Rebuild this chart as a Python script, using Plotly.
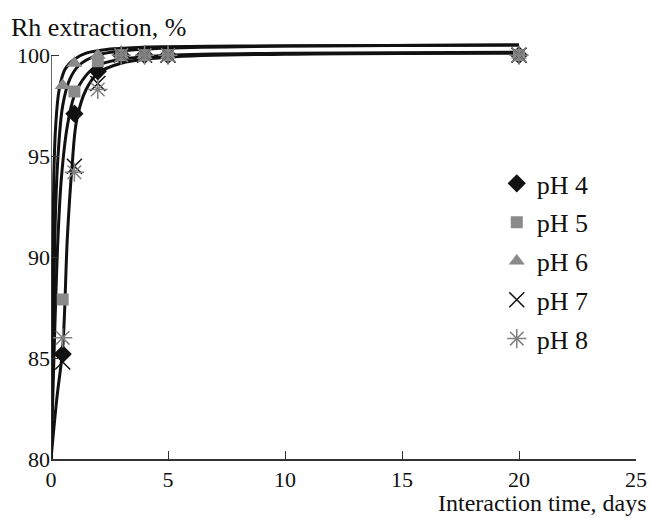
import plotly.graph_objects as go

# ---- data ----
time_days = [0.5, 1, 2, 3, 4, 5, 20]
ph4 = [85.2, 97.1, 99.2, 100.0, 100.0, 100.0, 100.0]
ph5 = [87.9, 98.2, 99.7, 100.0, 100.0, 100.0, 100.0]
ph6 = [98.5, 99.6, 100.0, 100.0, 100.0, 100.0, 100.0]
ph7 = [84.8, 94.5, 98.6, 100.0, 100.0, 100.0, 100.0]
ph8 = [86.0, 94.2, 98.3, 100.0, 100.0, 100.0, 100.0]

# fitted curves
curve1_x = [0, 0.05, 0.12, 0.2, 0.35, 0.6, 1, 1.5, 2.5, 4, 8, 20]
curve1_y = [80, 88, 94, 96.5, 98.3, 99.3, 99.8, 100.1, 100.3, 100.4, 100.45, 100.5]
curve2_x = [0, 0.1, 0.2, 0.3, 0.5, 0.8, 1.2, 2, 3, 5, 10, 20]
curve2_y = [80, 87, 92.5, 95, 97.5, 98.8, 99.5, 100.0, 100.2, 100.35, 100.45, 100.5]
curve3_x = [0, 0.15, 0.3, 0.45, 0.7, 1, 1.5, 2, 3, 5, 10, 20]
curve3_y = [80, 86, 91, 94, 96.5, 98, 99, 99.5, 99.8, 100.0, 100.1, 100.15]
curve4_x = [0, 0.25, 0.5, 0.7, 0.9, 1.1, 1.5, 2, 3, 5, 10, 20]
curve4_y = [80, 83, 85.5, 91, 94.5, 96.8, 98.3, 99.1, 99.6, 99.9, 100.05, 100.1]

x_ticks = [0, 5, 10, 15, 20, 25]
y_ticks = [80, 85, 90, 95, 100]

FONT = "Liberation Serif"
TXT = 26
fig = go.Figure()

for cx, cy in [(curve1_x, curve1_y), (curve2_x, curve2_y),
               (curve3_x, curve3_y), (curve4_x, curve4_y)]:
    fig.add_trace(go.Scatter(x=cx, y=cy, mode="lines", showlegend=False,
                             line=dict(color="#111111", width=3, shape="spline"),
                             hoverinfo="skip"))

series = [
    ("pH 4", ph4, dict(symbol="diamond", color="#111111", size=14)),
    ("pH 5", ph5, dict(symbol="square", color="#8a8a8a", size=12)),
    ("pH 6", ph6, dict(symbol="triangle-up", color="#8a8a8a", size=14)),
    ("pH 7", ph7, dict(symbol="x-thin-open", color="#111111", size=15,
                       line=dict(width=1.5, color="#111111"))),
    ("pH 8", ph8, dict(symbol="asterisk-open", color="#808080", size=16,
                       line=dict(width=1.5, color="#808080"))),
]
for i, (name, ys, mk) in enumerate(series):
    fig.add_trace(go.Scatter(x=time_days, y=ys, mode="markers", name=name,
                             marker=mk, cliponaxis=False, legendgroup=str(i)))

# y-axis line only up to 100
fig.add_shape(type="line", xref="x", yref="y", x0=0, x1=0, y0=80, y1=100,
              line=dict(color="#333333", width=1.5))

fig.update_layout(
    width=651, height=518,
    margin=dict(l=51, r=15, t=39, b=59, autoexpand=False),
    paper_bgcolor="white", plot_bgcolor="white",
    font=dict(family=FONT, size=22, color="#111111"),
    showlegend=True,
    legend=dict(x=0.762, y=0.712, xanchor="left", yanchor="top",
                bgcolor="rgba(0,0,0,0)", font=dict(size=TXT, family=FONT),
                tracegroupgap=2, traceorder="grouped", itemwidth=30),
    xaxis=dict(range=[0, 25], tickvals=x_ticks, ticks="inside", ticklen=8,
               tickwidth=1, tickcolor="#333333", showline=True,
               linecolor="#333333", linewidth=1.5, showgrid=False,
               zeroline=False, tickfont=dict(size=22, family=FONT)),
    yaxis=dict(range=[80, 100.8], tickvals=y_ticks, ticks="inside", ticklen=8,
               tickwidth=1, tickcolor="#333333", showline=False,
               showgrid=False, zeroline=False,
               tickfont=dict(size=22, family=FONT)),
    annotations=[
        dict(text="Rh extraction, %", xref="paper", yref="paper",
             x=-0.072, y=1.0, xanchor="left", yanchor="bottom", showarrow=False,
             yshift=-5, font=dict(size=TXT, family=FONT)),
        dict(text="Interaction time, days", xref="paper", yref="paper",
             x=1.0205, y=0, xanchor="right", yanchor="top", showarrow=False,
             yshift=-30, borderpad=0, font=dict(size=24, family=FONT)),
    ],
)

fig.write_html("out.html")
